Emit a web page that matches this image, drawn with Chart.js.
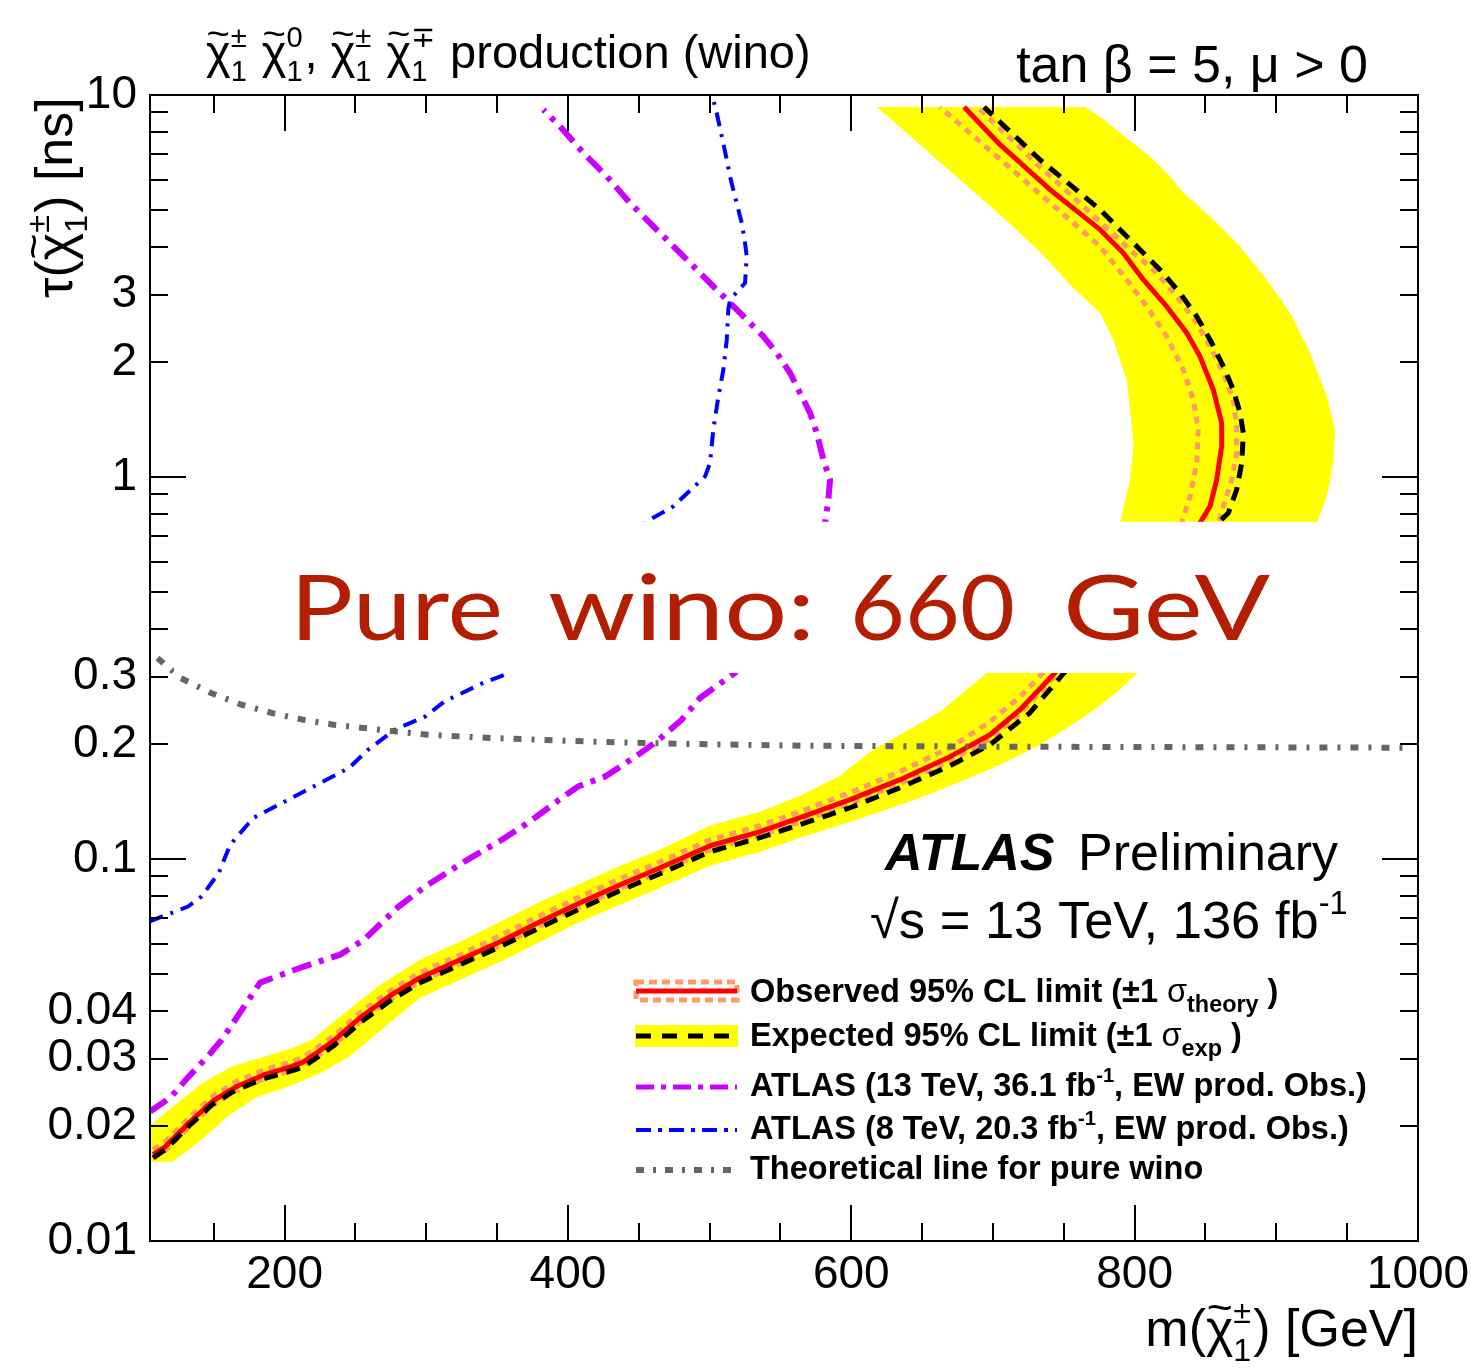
<!DOCTYPE html>
<html>
<head>
<meta charset="utf-8">
<script src="https://cdn.jsdelivr.net/npm/chart.js@4.4.1/dist/chart.umd.min.js"></script>
<style>
  html, body { margin: 0; padding: 0; background: #ffffff; }
  #wrap { width: 1471px; height: 1372px; position: relative; }
  canvas { display: block; }
</style>
</head>
<body>
<div id="wrap"><canvas id="c" width="1471" height="1372"></canvas></div>
<script>
// ---- axis ranges and tick labels ----
const massRange = [105, 1000];              // m(chargino) [GeV]
const lifetimeRange = [0.01, 10];           // tau(chargino) [ns]
const massTicks = [200, 400, 600, 800, 1000];
const lifetimeTicks = [0.01, 0.02, 0.03, 0.04, 0.1, 0.2, 0.3, 1, 2, 3, 10];
// region covered by the headline banner
const bannerLifetime = [0.307, 0.764];
const bannerMass = [122, 990];

// ---- observed 95% CL limit ----
const obsMass = [107.2,115.7,132.6,148.8,165.8,185.5,202.5,212.4,225.8,235.6,253.3,274.5,295.6,323.9,352.1,380.3,408.6,436.8,465.0,500.3,535.6,563.8,599.1,634.4,669.7,697.9,719.1,743.8,
                 846.1,853.2,857.9,861.4,861.4,855.5,846.1,836.8,822.6,806.1,792.0,775.6,740.3,705.0,679.6];
const obsTau = [0.01683,0.01765,0.02040,0.02315,0.02535,0.02725,0.02842,0.02929,0.03168,0.03365,0.03842,0.04386,0.04890,0.05449,0.06074,0.06855,0.07686,0.08565,0.09489,0.1083,0.1179,0.1283,0.1430,0.1613,0.1853,0.2115,0.2459,0.3073,
                0.7579,0.8377,0.9839,1.2027,1.3848,1.6925,2.069,2.382,2.796,3.285,3.858,4.441,5.651,7.413,9.3];

// ---- observed limit, -1 sigma theory ----
const thDownMass = [107.2,115.7,132.6,148.8,165.8,185.5,202.5,212.4,225.8,235.6,253.3,274.5,295.6,323.9,352.1,380.3,408.6,436.8,465.0,500.3,535.6,563.8,599.1,634.4,669.7,697.9,719.1,735.3,
                    833.2,839.1,843.8,844.9,841.4,834.4,822.6,808.5,794.4,775.6,740.3,705.0,662.6];
const thDownTau = [0.01734,0.01819,0.02102,0.02386,0.02613,0.02808,0.02929,0.03019,0.03265,0.03468,0.03960,0.04520,0.05040,0.05616,0.06298,0.07107,0.07969,0.08880,0.09838,0.1123,0.1222,0.1330,0.1492,0.1693,0.1956,0.2287,0.2659,0.3073,
                   0.7579,0.8897,1.088,1.3299,1.5935,1.9097,2.3341,2.7962,3.2852,4.0152,5.2249,6.791,9.3];

// ---- observed limit, +1 sigma theory ----
const thUpMass = [107.2,115.7,132.6,148.8,165.8,185.5,202.5,212.4,225.8,235.6,253.3,274.5,295.6,323.9,352.1,380.3,408.6,436.8,465.0,500.3,535.6,563.8,599.1,634.4,669.7,697.9,719.1,745.9,
                  859.1,862.6,868.5,872.0,872.0,869.6,862.6,853.2,843.8,829.7,815.6,798.9,775.6,733.2,688.8];
const thUpTau = [0.01643,0.01723,0.01991,0.02260,0.02475,0.02660,0.02774,0.02859,0.03093,0.03285,0.03751,0.04282,0.04774,0.05319,0.05929,0.06692,0.07503,0.08361,0.09263,0.1057,0.1151,0.1252,0.1396,0.1575,0.1809,0.2065,0.2400,0.3073,
                 0.7579,0.8377,0.9839,1.1557,1.3566,1.5935,1.8722,2.1975,2.5299,2.9700,3.4199,3.8660,4.6601,6.4911,9.3];

// ---- expected 95% CL limit ----
const expMass = [107.2,115.7,132.6,148.8,165.8,185.5,202.5,212.4,225.8,235.6,253.3,274.5,295.6,323.9,352.1,380.3,408.6,436.8,465.0,500.3,535.6,563.8,599.1,634.4,669.7,697.9,726.1,750.2,
                 866.1,872.0,875.6,876.7,874.4,869.6,862.6,853.2,843.8,832.0,817.9,803.8,789.7,775.6,733.2,693.7];
const expTau = [0.01652,0.01734,0.02003,0.02274,0.02489,0.02660,0.02774,0.02842,0.03074,0.03265,0.03728,0.04256,0.04745,0.05287,0.05894,0.06611,0.07412,0.08261,0.09152,0.1045,0.1137,0.1230,0.1362,0.1537,0.1754,0.1992,0.2415,0.3073,
                0.8048,0.9264,1.0880,1.3036,1.4711,1.6925,1.9481,2.2880,2.6327,3.0315,3.4885,3.9365,4.4406,5.0089,6.7705,9.3];

// ---- expected limit +-1 sigma band, as one closed contour ----
const bandMass = [105.8,122.7,142.5,162.2,185.5,206.0,219.4,239.2,267.4,295.6,323.9,352.1,380.3,408.6,436.8,465.0,500.3,535.6,563.8,592.1,613.2,634.4,662.6,695.8,
                  789.7,796.7,799.1,798.0,794.4,785.0,775.6,754.4,733.2,705.0,676.7,648.5,618.2,
                  765.0,775.6,810.8,825.0,834.4,853.2,874.4,893.2,909.7,923.8,935.6,941.4,940.2,935.6,928.5,
                  802.4,782.6,761.4,733.2,705.0,676.7,648.5,620.3,599.1,563.8,535.6,500.3,465.0,436.8,408.6,380.3,352.1,323.9,295.6,267.4,245.5,225.8,202.5,179.2,159.4,139.0,120.6,105.8];
const bandTau = [0.02015,0.02274,0.02597,0.02859,0.03037,0.03207,0.03365,0.03866,0.04688,0.05449,0.06074,0.06855,0.07733,0.08617,0.09604,0.1057,0.1223,0.1330,0.1465,0.1652,0.1910,0.2115,0.2429,0.3073,
                 0.7579,0.9839,1.2027,1.3566,1.7977,2.288,2.6872,3.1871,3.8891,4.8602,6.0009,7.4131,9.3,
                 9.3,8.7735,6.9069,6.1215,5.5401,4.8107,4.0152,3.2852,2.6872,2.1112,1.6255,1.3299,1.0880,0.8897,0.7579,
                 0.3073,0.2644,0.2316,0.1992,0.1765,0.1593,0.1447,0.1330,0.1252,0.1137,0.1045,0.09604,0.08412,0.07594,0.06855,0.06074,0.05383,0.04831,0.04334,0.03552,0.03037,0.02759,0.02535,0.02372,0.02115,0.01809,0.01613,0.01613];

// ---- earlier ATLAS results ----
const atlas13Mass = [105.1,119.1,132.5,145.7,155.7,182.7,211.0,239.2,256.1,280.5,299.4,329.1,353.4,375.0,393.9,407.4,426.3,447.9,464.2,480.3,493.2,518.0,
                     581.5,583.8,585.0,580.3,575.6,570.9,563.8,556.8,547.4,537.9,526.2,514.4,502.6,490.9,476.8,460.3,443.8,427.4,410.9,394.4,382.7];
const atlas13Tau = [0.02184,0.0237,0.02698,0.03043,0.03365,0.04745,0.0519,0.0562,0.0615,0.0751,0.0848,0.0996,0.1123,0.1268,0.143,0.155,0.1645,0.1856,0.2053,0.2316,0.2639,0.3074,
                    0.7578,0.872,0.984,1.11,1.304,1.471,1.659,1.872,2.112,2.333,2.581,2.854,3.155,3.489,3.936,4.529,5.216,6.123,7.05,8.277,9.15];

const atlas8Mass = [104.9,131.9,141.4,153.5,161.6,177.8,204.9,245.4,258.9,277.8,299.4,312.9,339.9,358.8,
                    455.6,474.4,496.8,500.3,502.6,506.2,509.7,512.1,513.2,514.4,525.0,526.2,525.0,522.7,520.3,516.7,514.4,512.1,508.6,505.0,502.6,501.8];
const atlas8Tau = [0.0687,0.0751,0.0798,0.0919,0.109,0.128,0.1444,0.173,0.1932,0.218,0.2362,0.2586,0.2888,0.3068,
                   0.765,0.838,1.004,1.088,1.33,1.626,1.909,2.288,2.742,2.912,3.22,3.78,4.10,4.62,5.01,5.65,6.12,6.77,7.79,8.97,9.72,10];

// ---- theoretical pure-wino lifetime ----
const winoMass = [110.3,126.5,148.1,169.7,191.3,212.9,234.5,256.1,277.8,302.1,323.7,345.3,366.9,391.2,412.8,437.1,458.7,480.3,563.8,705.0,850.0,994.3];
const winoTau = [0.3358,0.2977,0.2720,0.2534,0.2410,0.2316,0.2247,0.2203,0.2158,0.2115,0.2094,0.2074,0.2061,0.2044,0.2031,0.2019,0.2011,0.2002,0.1980,0.1968,0.1962,0.1956];

// ---- colours ----
const C_YELLOW = '#ffff00', C_RED = '#ff0000', C_SALMON = '#ff9966', C_BLACK = '#000000';
const C_MAGENTA = '#cc00ff', C_BLUE = '#0000ff', C_GREY = '#666666', C_HAND = '#b41e00';

// ---- fonts ----
function hasFont(name) {
  const c = document.createElement('canvas').getContext('2d');
  const s = 'mmmmmwwwlli 0.0123456789';
  c.font = '72px monospace'; const a = c.measureText(s).width;
  c.font = '72px "' + name + '", monospace'; const b = c.measureText(s).width;
  return Math.abs(a - b) > 0.5;
}
const SANS = '"Liberation Sans", Arial, Helvetica, sans-serif';
const NARROW_OK = hasFont('Liberation Sans Narrow');
const TICK_FONT = NARROW_OK ? { family: '"Liberation Sans Narrow", ' + SANS, size: 52 }
                            : { family: SANS, size: 46 };

const pts = (xs, ys) => xs.map((x, i) => ({ x: x, y: ys[i] }));

// Draws a run of text pieces: plain pieces, raised/lowered pieces, stacked sup/sub,
// and a tilde accent over a piece.
function drawRich(ctx, segs, x, y, o) {
  const fam = o.family || SANS;
  const fnt = (sz, st, wt) => `${st || o.style || 'normal'} ${wt || o.weight || 'normal'} ${sz}px ${fam}`;
  let w = 0; const items = [];
  for (const s of segs) {
    if (s.sup !== undefined || s.sub !== undefined) {
      const sz = o.size * (s.scale || 0.62);
      ctx.font = fnt(sz);
      const w1 = s.sup ? ctx.measureText(s.sup).width : 0;
      const w2 = s.sub ? ctx.measureText(s.sub).width : 0;
      items.push({ s, x: w, sz });
      w += Math.max(w1, w2) + (s.pad || 0.04) * o.size;
    } else {
      const sz = o.size * (s.scale || 1);
      ctx.font = fnt(sz, s.style, s.weight);
      const ww = ctx.measureText(s.t).width;
      items.push({ s, x: w, sz, ww });
      w += ww;
    }
  }
  const sx = o.sx || 1;
  let x0 = x;
  if (o.align === 'right') x0 = x - w * sx; else if (o.align === 'center') x0 = x - w * sx / 2;
  ctx.save();
  ctx.translate(x0, y);
  if (o.rotate) ctx.rotate(o.rotate);
  ctx.scale(sx, 1);
  ctx.fillStyle = o.color || '#000';
  ctx.textBaseline = 'alphabetic';
  ctx.textAlign = 'left';
  for (const it of items) {
    const s = it.s;
    if (s.sup !== undefined || s.sub !== undefined) {
      ctx.font = fnt(it.sz);
      if (s.sup) ctx.fillText(s.sup, it.x, -o.size * (s.supDy !== undefined ? s.supDy : 0.45));
      if (s.sub) ctx.fillText(s.sub, it.x, o.size * (s.subDy !== undefined ? s.subDy : 0.28));
    } else {
      ctx.font = fnt(it.sz, s.style, s.weight);
      ctx.fillText(s.t, it.x, (s.dy || 0) * o.size);
      if (s.tilde) {
        ctx.save();
        ctx.font = fnt(it.sz * 0.8);
        const tw = ctx.measureText('~').width;
        const k = (it.ww * 0.95) / tw;
        ctx.translate(it.x + it.ww * 0.5, -o.size * 0.47);
        ctx.scale(k, 1);
        ctx.textAlign = 'center';
        ctx.fillText('~', 0, 0);
        ctx.restore();
      }
    }
  }
  ctx.restore();
  return w * sx;
}

function strokeLine(ctx, x1, y1, x2, y2, color, width, dash) {
  ctx.save();
  ctx.strokeStyle = color; ctx.lineWidth = width; ctx.lineCap = 'butt';
  ctx.setLineDash(dash || []);
  ctx.beginPath(); ctx.moveTo(x1, y1); ctx.lineTo(x2, y2); ctx.stroke();
  ctx.restore();
}

const frameAndText = {
  id: 'frameAndText',
  beforeDatasetsDraw(chart) {
    // keep curves out of the banner strip
    const { ctx, chartArea: a, scales: { x, y } } = chart;
    const yTop = y.getPixelForValue(bannerLifetime[1]);
    const yBot = y.getPixelForValue(bannerLifetime[0]);
    const xL = x.getPixelForValue(bannerMass[0]);
    const xR = x.getPixelForValue(bannerMass[1]);
    ctx.save();
    ctx.beginPath();
    ctx.rect(a.left - 20, a.top - 20, a.right - a.left + 40, a.bottom - a.top + 40);
    ctx.rect(xL, yTop, xR - xL, yBot - yTop);
    ctx.clip('evenodd');
  },
  afterDatasetsDraw(chart) {
    chart.ctx.restore();
  },
  afterDraw(chart) {
    const { ctx, chartArea: a, scales: { x, y } } = chart;
    ctx.save();
    // frame
    ctx.strokeStyle = '#000'; ctx.lineWidth = 2; ctx.setLineDash([]);
    ctx.strokeRect(a.left, a.top, a.right - a.left, a.bottom - a.top);
    // inward ticks, mirrored on all four sides
    ctx.lineWidth = 2;
    ctx.beginPath();
    for (let m = 150; m <= massRange[1]; m += 50) {
      if (m < massRange[0]) continue;
      const px = Math.round(x.getPixelForValue(m));
      const len = (m % 200 === 0) ? 36 : 18;
      ctx.moveTo(px, a.bottom); ctx.lineTo(px, a.bottom - len);
      ctx.moveTo(px, a.top); ctx.lineTo(px, a.top + len);
    }
    for (const d of [0.01, 0.1, 1]) {
      for (let k = 1; k <= 9; k++) {
        const py = Math.round(y.getPixelForValue(k * d));
        const len = k === 1 ? 36 : 18;
        ctx.moveTo(a.left, py); ctx.lineTo(a.left + len, py);
        ctx.moveTo(a.right, py); ctx.lineTo(a.right - len, py);
      }
    }
    ctx.stroke();
    ctx.restore();

    // headline banner text
    const words = [['Pure', 290, 503], ['wino:', 548, 815], ['660', 850, 1015], ['GeV', 1063, 1270]];
    ctx.save();
    ctx.fillStyle = C_HAND;
    ctx.font = '92px Lato, "Open Sans", sans-serif';
    ctx.textBaseline = 'alphabetic';
    for (const [t, x0, x1] of words) {
      const w = ctx.measureText(t).width;
      ctx.save();
      ctx.translate(x0, 640);
      ctx.scale((x1 - x0) / w, 1);
      ctx.fillText(t, 0, 0);
      ctx.restore();
    }
    ctx.restore();

    // titles above the frame
    drawRich(ctx, [
      { t: 'χ', tilde: true }, { sup: '±', sub: '1' }, { t: ' ' },
      { t: 'χ', tilde: true }, { sup: '0', sub: '1' }, { t: ', ' },
      { t: 'χ', tilde: true }, { sup: '±', sub: '1' }, { t: ' ' },
      { t: 'χ', tilde: true }, { sup: '∓', sub: '1' }, { t: ' production (wino)' }
    ], 206, 68, { size: 47 });
    drawRich(ctx, [{ t: 'tan β = 5, μ > 0' }], 1368, 82, { size: 52, align: 'right' });

    // axis titles
    drawRich(ctx, [{ t: 'm(' }, { t: 'χ', tilde: true }, { sup: '±', sub: '1' }, { t: ') [GeV]' }],
             1418, 1346, { size: 52, align: 'right' });
    drawRich(ctx, [{ t: 'τ(' }, { t: 'χ', tilde: true }, { sup: '±', sub: '1' }, { t: ') [ns]' }],
             72, 298, { size: 52, rotate: -Math.PI / 2 });

    // experiment label
    drawRich(ctx, [{ t: 'ATLAS', style: 'italic', weight: 'bold' }], 885, 870, { size: 52 });
    drawRich(ctx, [{ t: 'Preliminary' }], 1078, 870, { size: 52 });
    drawRich(ctx, [{ t: '√s = 13 TeV, 136 fb' }, { t: '-1', scale: 0.62, dy: -0.45 }], 870, 938, { size: 52.5 });

    // legend
    const lx0 = 636, lx1 = 737, tx = 750;
    const rows = [1002, 1046, 1096, 1139, 1179];
    const mid = [991, 1036, 1087, 1130, 1170];
    ctx.save();
    ctx.strokeStyle = C_SALMON; ctx.lineWidth = 5; ctx.setLineDash([8, 5]);
    ctx.strokeRect(lx0, mid[0] - 9, lx1 - lx0, 18);
    ctx.restore();
    strokeLine(ctx, lx0, mid[0], lx1, mid[0], C_RED, 5);
    ctx.save(); ctx.fillStyle = C_YELLOW; ctx.fillRect(lx0 - 1, mid[1] - 11, lx1 - lx0 + 2, 22); ctx.restore();
    strokeLine(ctx, lx0, mid[1], lx1, mid[1], C_BLACK, 5, [15, 11]);
    strokeLine(ctx, lx0, mid[2], lx1, mid[2], C_MAGENTA, 5, [18, 7, 5, 7]);
    strokeLine(ctx, lx0, mid[3], lx1, mid[3], C_BLUE, 4, [15, 7, 4, 7]);
    strokeLine(ctx, lx0, mid[4], lx1, mid[4], C_GREY, 6, [8, 9, 3, 9]);
    const lo = { size: 32.5, weight: 'bold' };
    drawRich(ctx, [{ t: 'Observed 95% CL limit (±1 ' }, { t: 'σ', weight: 'normal' }, { t: 'theory', scale: 0.72, dy: 0.3 }, { t: ' )' }], tx, rows[0], lo);
    drawRich(ctx, [{ t: 'Expected 95% CL limit (±1 ' }, { t: 'σ', weight: 'normal' }, { t: 'exp', scale: 0.72, dy: 0.3 }, { t: ' )' }], tx, rows[1], lo);
    drawRich(ctx, [{ t: 'ATLAS (13 TeV, 36.1 fb' }, { t: '-1', scale: 0.62, dy: -0.42 }, { t: ', EW prod. Obs.)' }], tx, rows[2], lo);
    drawRich(ctx, [{ t: 'ATLAS (8 TeV, 20.3 fb' }, { t: '-1', scale: 0.62, dy: -0.42 }, { t: ', EW prod. Obs.)' }], tx, rows[3], lo);
    drawRich(ctx, [{ t: 'Theoretical line for pure wino' }], tx, rows[4], lo);
  }
};

const lineDs = (label, xs, ys, color, width, dash, order) => ({
  label, data: pts(xs, ys), showLine: true, borderColor: color, borderWidth: width,
  borderDash: dash, borderCapStyle: 'butt', borderJoinStyle: 'round', pointRadius: 0, pointHoverRadius: 0,
  fill: false, tension: 0, order
});

new Chart(document.getElementById('c'), {
  type: 'scatter',
  data: {
    datasets: [
      { label: 'Expected ±1σ', data: pts(bandMass, bandTau), showLine: true, borderWidth: 0,
        borderColor: 'rgba(0,0,0,0)', backgroundColor: C_YELLOW, fill: 'shape', pointRadius: 0, tension: 0, order: 10 },
      lineDs('Observed -1σ theory', thDownMass, thDownTau, C_SALMON, 5, [7, 6], 9),
      lineDs('Observed +1σ theory', thUpMass, thUpTau, C_SALMON, 5, [7, 6], 8),
      lineDs('Observed', obsMass, obsTau, C_RED, 5, [], 7),
      lineDs('Expected', expMass, expTau, C_BLACK, 5, [14, 9], 6),
      lineDs('ATLAS 13 TeV 36.1/fb', atlas13Mass, atlas13Tau, C_MAGENTA, 6, [20, 8, 5, 8], 5),
      lineDs('ATLAS 8 TeV 20.3/fb', atlas8Mass, atlas8Tau, C_BLUE, 4, [14, 8, 3, 8], 4),
      lineDs('Pure wino', winoMass, winoTau, C_GREY, 6, [8, 10, 3, 10], 3)
    ]
  },
  options: {
    responsive: false,
    devicePixelRatio: 1,
    animation: false,
    events: [],
    layout: { padding: { top: 95, right: 53, left: 0, bottom: 0 } },
    plugins: { legend: { display: false }, tooltip: { enabled: false }, title: { display: false } },
    scales: {
      x: {
        type: 'linear', min: massRange[0], max: massRange[1],
        grid: { display: false, drawTicks: false }, border: { display: false },
        afterBuildTicks: s => { s.ticks = massTicks.map(v => ({ value: v })); },
        afterFit: s => { s.height = 131; s.paddingLeft = 0; s.paddingRight = 0; },
        ticks: { autoSkip: false, maxRotation: 0, color: '#000', padding: 7,
                 font: TICK_FONT, callback: v => String(v) }
      },
      y: {
        type: 'logarithmic', min: lifetimeRange[0], max: lifetimeRange[1],
        grid: { display: false, drawTicks: false }, border: { display: false },
        afterBuildTicks: s => { s.ticks = lifetimeTicks.map(v => ({ value: v })); },
        afterFit: s => { s.width = 150; s.paddingTop = 0; s.paddingBottom = 0; },
        ticks: { autoSkip: false, color: '#000', padding: 13,
                 font: TICK_FONT, callback: v => String(v) }
      }
    }
  },
  plugins: [frameAndText]
});
</script>
</body>
</html>
